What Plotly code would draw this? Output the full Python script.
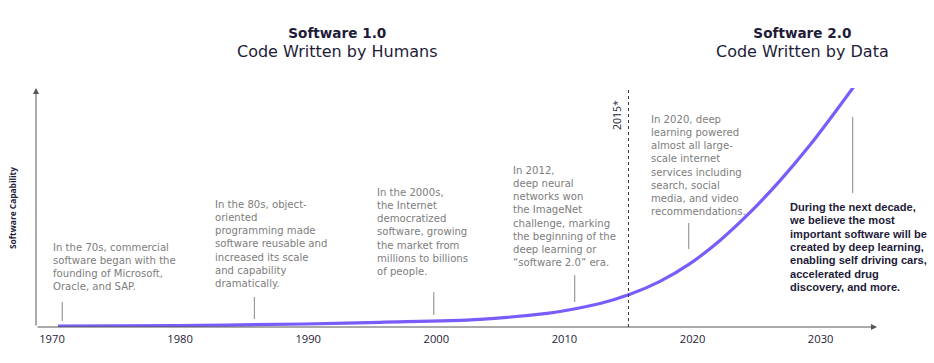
import plotly.graph_objects as go

# ---------------- data ----------------
years = [1970.47, 1979.83, 1989.75, 1995.60, 2003.41, 2008.64, 2009.65, 2012.78, 2015.12,
         2017.46, 2019.80, 2022.14, 2024.49, 2026.83, 2029.17, 2031.51, 2032.57]
capability = [0.42, 0.63, 1.26, 1.97, 3.22, 5.73, 6.49, 9.83, 13.68,
              19.08, 26.49, 36.23, 47.95, 61.26, 76.15, 92.68, 100.42]

tick_years = [1970, 1980, 1990, 2000, 2010, 2020, 2030]
tick_labels = ["1970", "1980", "1990", "2000", "2010", "2020", "2030"]

divider_year = 2015
divider_label = "2015*"

event_years = [1970.8, 1985.8, 1999.8, 2010.8, 2019.7, 2032.5]
event_texts = [
    "In the 70s, commercial<br>software began with the<br>founding of Microsoft,<br>Oracle, and SAP.",
    "In the 80s, object-<br>oriented<br>programming made<br>software reusable and<br>increased its scale<br>and capability<br>dramatically.",
    "In the 2000s,<br>the Internet<br>democratized<br>software, growing<br>the market from<br>millions to billions<br>of people.",
    "In 2012,<br>deep neural<br>networks won<br>the ImageNet<br>challenge, marking<br>the beginning of the<br>deep learning or<br>“software 2.0” era.",
    "In 2020, deep<br>learning powered<br>almost all large-<br>scale internet<br>services including<br>search, social<br>media, and video<br>recommendations.",
    "During the next decade,<br>we believe the most<br>important software will be<br>created by deep learning,<br>enabling self driving cars,<br>accelerated drug<br>discovery, and more.",
]

era_titles = ["Software 1.0", "Software 2.0"]
era_subtitles = ["Code Written by Humans", "Code Written by Data"]
y_title = "Software Capability"

# ---------------- layout helpers ----------------
W, H = 934, 363
ML, MR, MT, MB = 36, 57, 88, 36
X0, X1 = 1968.75, 2034.4
Y0, Y1 = 0, 100
pw, ph = W - ML - MR, H - MT - MB


def dy(p):  # pixel y -> data y
    return Y0 + (H - MB - p) / ph * (Y1 - Y0)


def ppx(p):
    return (p - ML) / pw


def ppy(p):
    return (H - MB - p) / ph


TEXT_FONT = "DejaVu Sans"
BOLD_FONT = "Liberation Sans"
LABEL_FONT = "Open Sans"
GRAY = "#7d7d7d"
DARK = "#1e1c38"
PURPLE = "#7a5cfa"

fig = go.Figure()
fig.add_trace(go.Scatter(
    x=years, y=capability, mode="lines",
    line=dict(color=PURPLE, width=3.2, shape="spline", smoothing=1.0),
    hoverinfo="skip", cliponaxis=False, showlegend=False,
))

shapes = []
annotations = []

# axes with arrows
annotations.append(dict(x=X1, y=Y0, ax=X0, ay=Y0, xref="x", yref="y", axref="x", ayref="y",
                        text="", showarrow=True, arrowhead=2, arrowsize=1.2, arrowwidth=1,
                        arrowcolor="#555555"))
annotations.append(dict(x=X0, y=Y1, ax=X0, ay=Y0, xref="x", yref="y", axref="x", ayref="y",
                        text="", showarrow=True, arrowhead=2, arrowsize=1.2, arrowwidth=1,
                        arrowcolor="#555555"))

# divider
shapes.append(dict(type="line", x0=divider_year, x1=divider_year, y0=Y0, y1=dy(87),
                   xref="x", yref="y", line=dict(color="#333333", width=1, dash="dot")))
annotations.append(dict(x=ppx(617), y=ppy(115), xref="paper", yref="paper", text=divider_label,
                        textangle=-90, showarrow=False, xanchor="center", yanchor="middle",
                        font=dict(family=LABEL_FONT, size=10.5, color=DARK)))

# event markers (short vertical gray lines)
marker_px = [(302, 321), (297, 319), (292, 315), (275, 302), (223, 249), (117, 193)]
for yr, (top, bot) in zip(event_years, marker_px):
    shapes.append(dict(type="line", x0=yr, x1=yr, y0=dy(bot), y1=dy(top), xref="x", yref="y",
                       line=dict(color="#9a9a9a", width=1.2)))

# event texts (line spacing = 1.3 x base font size)
text_pos = [(53, 247), (215, 205), (377, 193), (513, 170), (651, 119), (789, 207)]
LINE_H = 13.15
for i, (txt, (lx, fy)) in enumerate(zip(event_texts, text_pos)):
    bold = (i == 5)
    lines = txt.split("<br>")
    if bold:
        body = "<br>".join("<span style='font-size:11.1px'><b>" + ln + "</b></span>"
                           for ln in lines)
        font = dict(family=BOLD_FONT, size=13.33 / 1.3, color=DARK)
        cy = fy + (len(lines) - 1) * 13.33 / 2
    else:
        body = txt
        font = dict(family=TEXT_FONT, size=LINE_H / 1.3, color=GRAY)
        cy = fy + (len(lines) - 1) * LINE_H / 2
    annotations.append(dict(
        x=ppx(lx - 2), y=ppy(cy), xref="paper", yref="paper",
        text=body, showarrow=False, xanchor="left", yanchor="middle", align="left",
        font=font))

# era titles (title + subtitle 19 px apart)
for t, s, cx in zip(era_titles, era_subtitles, [337, 802]):
    annotations.append(dict(
        x=ppx(cx), y=ppy(42.5), xref="paper", yref="paper",
        text="<span style='font-size:13.6px'><b>" + t + "</b></span><br>"
             "<span style='font-size:16px'>" + s + "</span>",
        showarrow=False, xanchor="center", yanchor="middle", align="center",
        font=dict(family=TEXT_FONT, size=19 / 1.3, color=DARK)))

# y axis title
annotations.append(dict(x=ppx(12), y=ppy(208), xref="paper", yref="paper",
                        text="<b>" + y_title + "</b>",
                        textangle=-90, showarrow=False, xanchor="center", yanchor="middle",
                        font=dict(family=LABEL_FONT, size=8.4, color=DARK)))

fig.update_layout(
    width=W, height=H,
    margin=dict(l=ML, r=MR, t=MT, b=MB),
    paper_bgcolor="white", plot_bgcolor="white",
    showlegend=False,
    shapes=shapes, annotations=annotations,
    xaxis=dict(range=[X0, X1], tickvals=tick_years, ticktext=tick_labels, showgrid=False,
               zeroline=False, showline=False, ticks="", automargin=False,
               ticklabelstandoff=4,
               tickfont=dict(family=LABEL_FONT, size=11.2, color=DARK), fixedrange=True),
    yaxis=dict(range=[Y0, Y1], showgrid=False, zeroline=False, showline=False,
               showticklabels=False, ticks="", automargin=False, fixedrange=True),
)

fig.write_html("out.html", config={"displayModeBar": False},
               post_script="document.body.style.margin='0';document.body.style.overflow='hidden';")
